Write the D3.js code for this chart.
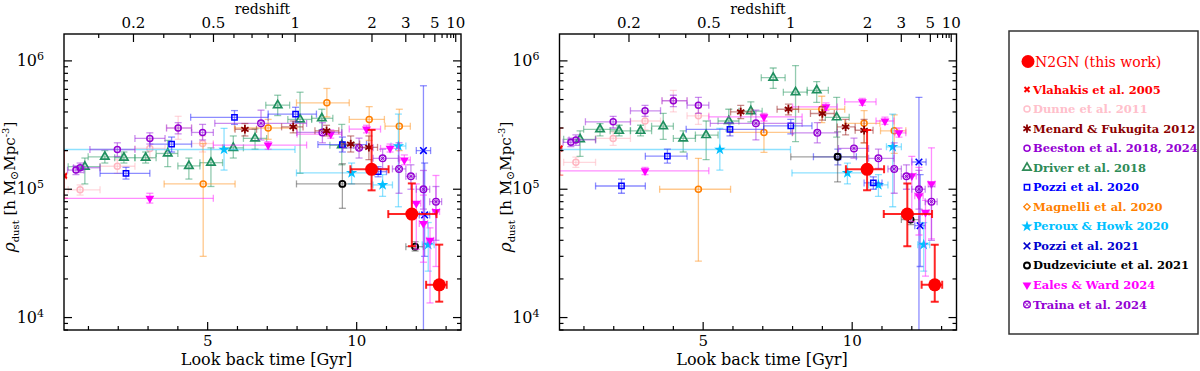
<!DOCTYPE html>
<html>
<head>
<meta charset="utf-8">
<script src="https://cdn.jsdelivr.net/npm/d3@7"></script>
<style>
body { margin: 0; background: #fff; }
svg { display: block; font-family: "DejaVu Serif", serif; }
</style>
</head>
<body>
<svg width="1200" height="371"></svg>
<script>
// each row: [lookback Gyr, tLo, tHi, rho_dust, rhoLo, rhoHi]
// left panel (A) and right panel (B)
var n2gn = [[10.50, 9.79, 11.07, 1.43e5, 0.98e5, 2.9e5],
            [11.85, 11.06, 12.68, 6.4e4, 3.6e4, 1.11e5],
            [12.77, 12.33, 13.02, 1.8e4, 1.33e4, 3.7e4]];

var vlahakisA = [[0.19, 0.12, 0.26, 1.27e5, 0.85e5, 2.0e5]];
var vlahakisB = [[0.19, 0.12, 0.26, 2.08e5, 1.29e5, 3.0e5]];

var dunneA = [[0.72, 0.32, 1.39, 9.9e4, 9.0e4, 1.08e5],
              [1.97, 1.39, 2.56, 1.51e5, 1.33e5, 1.7e5],
              [3.06, 2.56, 3.57, 2.08e5, 1.75e5, 2.45e5],
              [4.01, 3.62, 4.46, 3.0e5, 2.45e5, 3.7e5],
              [4.83, 4.46, 5.19, 2.27e5, 1.95e5, 2.6e5]];
var dunneB = [[0.73, 0.32, 1.39, 1.62e5, 1.48e5, 1.78e5],
              [1.98, 1.39, 2.56, 2.49e5, 2.2e5, 2.8e5],
              [3.05, 2.56, 3.57, 3.4e5, 2.9e5, 4.0e5],
              [4.0, 3.62, 4.46, 4.9e5, 4.0e5, 5.9e5],
              [4.84, 4.46, 5.19, 3.73e5, 3.2e5, 4.3e5]];

var menardA = [[6.25, 5.92, 6.64, 2.93e5, 2.6e5, 3.25e5],
               [7.87, 7.48, 8.2, 3.06e5, 2.75e5, 3.4e5],
               [8.99, 8.6, 9.4, 2.85e5, 2.6e5, 3.15e5],
               [9.8, 9.5, 10.1, 2.25e5, 1.95e5, 2.6e5],
               [10.41, 10.1, 10.7, 2.12e5, 1.7e5, 2.6e5]];
var menardB = [[6.26, 5.92, 6.64, 4.0e5, 3.55e5, 4.5e5],
               [7.86, 7.48, 8.2, 4.2e5, 3.8e5, 4.6e5],
               [9.0, 8.6, 9.4, 3.89e5, 3.45e5, 4.4e5],
               [9.78, 9.5, 10.1, 3.06e5, 2.65e5, 3.5e5],
               [10.4, 10.1, 10.7, 2.88e5, 2.3e5, 3.5e5]];

var beestonA = [[0.58, 0.3, 0.85, 1.41e5, 1.3e5, 1.52e5],
                [0.72, 0.5, 1.39, 1.47e5, 1.35e5, 1.6e5],
                [1.97, 1.05, 2.56, 2.04e5, 1.8e5, 2.3e5],
                [3.06, 2.56, 3.57, 2.49e5, 2.25e5, 2.75e5],
                [4.01, 3.62, 4.46, 3.0e5, 2.7e5, 3.3e5],
                [4.83, 4.46, 5.19, 2.77e5, 2.42e5, 3.2e5]];
var beestonB = [[0.56, 0.3, 0.85, 2.32e5, 2.15e5, 2.5e5],
                [0.73, 0.5, 1.39, 2.42e5, 2.2e5, 2.65e5],
                [1.98, 1.05, 2.56, 3.35e5, 3.0e5, 3.7e5],
                [3.05, 2.56, 3.57, 4.08e5, 3.7e5, 4.5e5],
                [4.0, 3.62, 4.46, 4.89e5, 4.4e5, 5.4e5],
                [4.84, 4.46, 5.19, 4.52e5, 3.9e5, 5.2e5]];

var driverA = [[0.88, 0.32, 1.39, 1.5e5, 1.1e5, 1.75e5],
               [1.55, 0.99, 2.12, 1.79e5, 1.6e5, 2.0e5],
               [2.19, 1.88, 2.56, 1.76e5, 1.6e5, 1.95e5],
               [2.92, 2.56, 3.27, 1.76e5, 1.6e5, 1.95e5],
               [3.66, 3.27, 4.0, 1.9e5, 1.5e5, 2.4e5],
               [4.37, 4.0, 4.74, 1.52e5, 1.2e5, 1.75e5],
               [5.11, 4.74, 5.5, 1.61e5, 1.05e5, 2.1e5],
               [5.86, 5.5, 6.2, 2.1e5, 1.75e5, 2.6e5],
               [6.59, 6.2, 6.98, 2.49e5, 2.05e5, 2.95e5],
               [7.35, 6.95, 7.75, 4.52e5, 3.75e5, 5.4e5],
               [8.1, 7.69, 8.49, 3.5e5, 1.33e5, 5.7e5],
               [8.83, 8.49, 9.2, 3.57e5, 2.9e5, 4.2e5],
               [9.5, 9.1, 9.9, 2.2e5, 1.55e5, 3.2e5]];
var driverB = [[0.87, 0.32, 1.39, 2.45e5, 1.8e5, 2.85e5],
               [1.54, 0.99, 2.12, 2.93e5, 2.6e5, 3.25e5],
               [2.18, 1.88, 2.56, 2.85e5, 2.6e5, 3.15e5],
               [2.9, 2.56, 3.27, 2.85e5, 2.6e5, 3.15e5],
               [3.66, 3.27, 4.0, 3.1e5, 2.45e5, 3.9e5],
               [4.33, 4.0, 4.74, 2.49e5, 1.95e5, 2.85e5],
               [5.1, 4.74, 5.5, 2.64e5, 1.7e5, 3.4e5],
               [5.86, 5.5, 6.2, 3.4e5, 2.85e5, 4.2e5],
               [6.6, 6.2, 6.98, 4.06e5, 3.35e5, 4.8e5],
               [7.35, 6.95, 7.75, 7.4e5, 6.1e5, 8.8e5],
               [8.1, 7.69, 8.49, 5.7e5, 2.35e5, 9.2e5],
               [8.81, 8.49, 9.2, 5.9e5, 4.75e5, 6.9e5],
               [9.48, 9.1, 9.9, 3.63e5, 2.55e5, 5.2e5]];

var pozzi20A = [[2.26, 1.39, 3.06, 1.33e5, 1.2e5, 1.48e5],
                [3.79, 3.06, 4.46, 2.25e5, 1.95e5, 2.55e5],
                [5.9, 4.43, 7.03, 3.63e5, 3.2e5, 4.1e5],
                [7.95, 7.03, 8.65, 3.85e5, 3.35e5, 4.35e5],
                [9.52, 8.7, 10.33, 2.23e5, 1.95e5, 2.55e5],
                [10.72, 10.4, 11.0, 1.37e5, 1.25e5, 1.5e5]];
var pozzi20B = [[2.26, 1.39, 3.06, 1.06e5, 0.93e5, 1.2e5],
                [3.8, 3.06, 4.46, 1.81e5, 1.6e5, 2.05e5],
                [5.9, 4.43, 7.03, 2.93e5, 2.6e5, 3.3e5],
                [7.94, 7.03, 8.65, 3.12e5, 2.7e5, 3.5e5],
                [9.52, 8.7, 10.14, 1.79e5, 1.55e5, 2.05e5],
                [10.71, 10.4, 11.0, 1.12e5, 1.0e5, 1.25e5]];

var magnelliA = [[4.85, 3.54, 5.92, 1.1e5, 3.0e4, 2.27e5],
                 [7.03, 5.9, 8.0, 3.0e5, 2.45e5, 3.5e5],
                 [9.0, 7.98, 9.75, 4.71e5, 3.66e5, 6.1e5],
                 [10.42, 9.75, 10.93, 3.5e5, 2.4e5, 4.4e5],
                 [11.43, 10.95, 11.8, 3.1e5, 2.0e5, 4.2e5]];
var magnelliB = [[4.84, 3.54, 5.92, 1.0e5, 2.75e4, 1.74e5],
                 [7.04, 5.9, 8.0, 2.77e5, 1.94e5, 3.77e5],
                 [8.98, 7.98, 9.75, 4.2e5, 3.3e5, 5.3e5],
                 [10.4, 9.75, 10.93, 3.26e5, 2.3e5, 4.1e5],
                 [11.41, 10.95, 11.8, 2.85e5, 1.9e5, 3.8e5]];

var perouxA = [[5.55, 0.0, 7.93, 2.04e5, 1.41e5, 2.98e5],
               [9.83, 7.98, 10.6, 1.34e5, 1.1e5, 1.6e5],
               [10.87, 10.55, 11.2, 1.08e5, 8.8e4, 1.3e5],
               [11.4, 11.15, 11.65, 2.17e5, 7.3e4, 3.85e5],
               [12.4, 12.2, 12.6, 3.7e4, 2.3e4, 5.5e4]];
var perouxB = [[5.56, 0.0, 7.93, 2.04e5, 1.41e5, 2.98e5],
               [9.84, 7.98, 10.6, 1.34e5, 1.1e5, 1.6e5],
               [10.88, 10.55, 11.2, 1.08e5, 8.8e4, 1.3e5],
               [11.36, 11.15, 11.65, 2.14e5, 7.3e4, 3.85e5],
               [12.4, 12.2, 12.6, 3.7e4, 2.3e4, 5.5e4]];

var pozzi21A = [[12.24, 12.0, 12.48, 2.0e5, 5.0e3, 6.4e5],
                [12.28, 12.1, 12.45, 6.3e4, 3.0e4, 1.6e5]];
var pozzi21B = [[12.24, 12.0, 12.48, 1.63e5, 5.0e3, 5.2e5],
                [12.28, 12.1, 12.45, 5.2e4, 2.5e4, 1.3e5]];

var dudzA = [[9.52, 7.98, 10.5, 1.1e5, 7.1e4, 1.58e5],
             [11.96, 11.65, 12.24, 3.57e4, 3.3e4, 3.9e4]];
var dudzB = [[9.51, 7.94, 10.49, 1.79e5, 1.14e5, 2.8e5],
             [11.96, 11.65, 12.24, 5.8e4, 5.3e4, 6.3e4]];

var ealesA = [[3.06, 0.15, 5.19, 8.5e4, 7.8e4, 9.3e4],
              [7.03, 5.19, 8.32, 2.21e5, 2.05e5, 2.35e5],
              [9.13, 8.0, 9.5, 2.69e5, 2.5e5, 2.9e5],
              [10.33, 9.75, 10.8, 2.94e5, 2.75e5, 3.15e5],
              [11.12, 10.8, 11.4, 2.08e5, 1.95e5, 2.25e5],
              [11.6, 11.43, 11.8, 1.69e5, 1.55e5, 1.85e5],
              [12.0, 11.85, 12.15, 7.76e4, 3.4e4, 1.1e5],
              [12.24, 12.1, 12.38, 5.4e4, 2.7e4, 9.0e4],
              [12.46, 12.35, 12.58, 4.0e4, 1.3e4, 5.0e4],
              [12.66, 12.55, 12.78, 6.7e4, 2.5e4, 1.28e5]];
var ealesB = [[3.05, 0.15, 5.19, 1.39e5, 1.3e5, 1.48e5],
              [7.04, 5.19, 8.32, 3.66e5, 3.4e5, 3.9e5],
              [9.12, 8.0, 9.5, 4.38e5, 4.1e5, 4.7e5],
              [10.34, 9.75, 10.8, 4.8e5, 4.5e5, 5.1e5],
              [11.1, 10.8, 11.4, 3.4e5, 3.2e5, 3.65e5],
              [11.57, 11.43, 11.8, 2.75e5, 2.55e5, 3.0e5],
              [12.0, 11.85, 12.15, 1.27e5, 5.6e4, 1.8e5],
              [12.24, 12.1, 12.38, 8.9e4, 4.4e4, 1.48e5],
              [12.46, 12.35, 12.58, 6.6e4, 2.1e4, 8.2e4],
              [12.66, 12.55, 12.78, 1.1e5, 4.1e4, 2.1e5]];

var trainaA = [[6.79, 5.24, 8.32, 3.26e5, 2.42e5, 4.13e5],
               [8.85, 7.99, 9.5, 2.77e5, 2.3e5, 3.3e5],
               [10.08, 9.54, 10.55, 2.1e5, 1.75e5, 2.5e5],
               [10.87, 10.55, 11.4, 1.74e5, 1.45e5, 2.05e5],
               [11.42, 11.2, 11.65, 1.44e5, 0.93e5, 2.3e5],
               [11.82, 11.65, 12.0, 1.26e5, 1.0e5, 1.55e5],
               [12.24, 12.0, 12.45, 1.0e5, 0.7e5, 1.4e5],
               [12.66, 12.45, 12.85, 8.0e4, 4.0e4, 1.05e5]];
var trainaB = [[6.77, 5.24, 8.32, 3.26e5, 2.42e5, 4.13e5],
               [8.83, 7.99, 9.5, 2.75e5, 2.3e5, 3.3e5],
               [10.06, 9.54, 10.55, 2.08e5, 1.75e5, 2.5e5],
               [10.88, 10.55, 11.4, 1.74e5, 1.45e5, 2.05e5],
               [11.41, 11.2, 11.65, 1.44e5, 0.93e5, 2.3e5],
               [11.82, 11.65, 12.0, 1.26e5, 1.0e5, 1.55e5],
               [12.24, 12.0, 12.45, 1.0e5, 0.7e5, 1.4e5],
               [12.66, 12.45, 12.85, 8.0e4, 4.0e4, 1.05e5]];

var legendNames = ["N2GN (this work)", "Vlahakis et al. 2005", "Dunne et al. 2011",
  "Menard & Fukugita 2012", "Beeston et al. 2018, 2024", "Driver et al. 2018",
  "Pozzi et al. 2020", "Magnelli et al. 2020", "Peroux & Howk 2020", "Pozzi et al. 2021",
  "Dudzeviciute et al. 2021", "Eales & Ward 2024", "Traina et al. 2024"];

var zMajor = [0.2, 0.5, 1, 2, 3, 5, 10];
var zMinor = [0.1, 0.3, 0.4, 0.6, 0.7, 0.8, 0.9, 4, 6, 7, 8, 9];
var tMajor = [5, 10];
var yMajor = [1e4, 1e5, 1e6];

// styles, in drawing order (legend order is separate)
var sets = [
  {leg: 2, sym: "circle", color: "#ffb6c1", err: "#ffb6c1", A: dunneA, B: dunneB},
  {leg: 1, sym: "vx", color: "#ff0000", err: "#ff0000", A: vlahakisA, B: vlahakisB},
  {leg: 9, sym: "x", color: "#0000ff", err: "#3030ff", A: pozzi21A, B: pozzi21B},
  {leg: 5, sym: "tri", color: "#1f8f5f", err: "#3aa070", A: driverA, B: driverB},
  {leg: 7, sym: "circle", color: "#ff7f00", err: "#ff9a30", A: magnelliA, B: magnelliB},
  {leg: 8, sym: "star", color: "#00bfff", err: "#30c8ff", A: perouxA, B: perouxB},
  {leg: 6, sym: "square", color: "#0000ff", err: "#3030ff", A: pozzi20A, B: pozzi20B},
  {leg: 10, sym: "bcircle", color: "#000000", err: "#555555", A: dudzA, B: dudzB},
  {leg: 11, sym: "tridown", color: "#ff00ff", err: "#ff30ff", A: ealesA, B: ealesB},
  {leg: 4, sym: "circle", color: "#9400d3", err: "#a030e0", A: beestonA, B: beestonB},
  {leg: 12, sym: "ocast", color: "#9400d3", err: "#a030e0", A: trainaA, B: trainaB},
  {leg: 3, sym: "ast", color: "#8b0000", err: "#a03030", A: menardA, B: menardB},
  {leg: 0, sym: "dot", color: "#ff0000", err: "#ff0000", A: n2gn, B: n2gn}
];
var legColors = ["#ff0000", "#ff0000", "#ffc0cb", "#8b0000", "#9400d3", "#2e8b57",
  "#0000ff", "#ff7f00", "#00bfff", "#0000cd", "#000000", "#ff00ff", "#9400d3"];
var legSyms = ["dot", "vx", "circle", "ast", "circle", "tri", "square", "diamond", "star", "x", "bcircle", "tridown", "ocast"];

var svg = d3.select("svg");
var W = 397, H = 296, top0 = 34;
var x = d3.scaleLinear().domain([0.18, 13.5]).range([0, W]);
var y = d3.scaleLog().domain([8.0e3, 1.62e6]).range([H, 0]);

// lookback time (Gyr), flat LCDM H0=67.7, Om=0.31
function lookback(z) {
  var n = 200, u1 = Math.log(1 + z), h = u1 / n, s = 0;
  for (var i = 0; i <= n; i++) {
    var zz = Math.exp(i * h) - 1;
    var f = 1 / Math.sqrt(0.31 * Math.pow(1 + zz, 3) + 0.69);
    var w = (i == 0 || i == n) ? 1 : (i % 2 ? 4 : 2);
    s += w * f;
  }
  return s * h / 3 * 977.8 / 67.7;
}

function marker(g, sym, cx, cy, color) {
  var m;
  if (sym == "dot") {
    g.append("circle").attr("cx", cx).attr("cy", cy).attr("r", 6.5).attr("fill", color);
  } else if (sym == "circle" || sym == "bcircle") {
    g.append("circle").attr("cx", cx).attr("cy", cy).attr("r", 3)
      .attr("fill", "none").attr("stroke", color).attr("stroke-width", sym == "bcircle" ? 1.9 : 1.5);
  } else if (sym == "ocast") {
    g.append("circle").attr("cx", cx).attr("cy", cy).attr("r", 3.3)
      .attr("fill", "none").attr("stroke", color).attr("stroke-width", 1.4);
    g.append("path").attr("d", d3.symbol(d3.symbolTimes, 12)())
      .attr("transform", "translate(" + cx + "," + cy + ")").attr("stroke", color).attr("stroke-width", 1);
  } else if (sym == "tri") {
    g.append("path").attr("d", d3.symbol(d3.symbolTriangle, 30)())
      .attr("transform", "translate(" + cx + "," + cy + ")")
      .attr("fill", "none").attr("stroke", color).attr("stroke-width", 1.7);
  } else if (sym == "tridown") {
    g.append("path").attr("d", d3.symbol(d3.symbolTriangle, 34)())
      .attr("transform", "translate(" + cx + "," + cy + ") rotate(180)").attr("fill", color);
  } else if (sym == "square") {
    g.append("path").attr("d", d3.symbol(d3.symbolSquare, 28)())
      .attr("transform", "translate(" + cx + "," + cy + ")")
      .attr("fill", "none").attr("stroke", color).attr("stroke-width", 1.5);
  } else if (sym == "diamond") {
    g.append("path").attr("d", d3.symbol(d3.symbolDiamond2, 26)())
      .attr("transform", "translate(" + cx + "," + cy + ")")
      .attr("fill", "none").attr("stroke", color).attr("stroke-width", 1.3);
  } else if (sym == "star") {
    g.append("path").attr("d", d3.symbol(d3.symbolStar, 40)())
      .attr("transform", "translate(" + cx + "," + cy + ")").attr("fill", color);
  } else if (sym == "x" || sym == "vx") {
    g.append("path").attr("d", d3.symbol(d3.symbolTimes, sym == "x" ? 30 : 18)())
      .attr("transform", "translate(" + cx + "," + cy + ")")
      .attr("stroke", color).attr("stroke-width", sym == "x" ? 1.6 : 2);
  } else if (sym == "ast") {
    m = g.append("g").attr("transform", "translate(" + cx + "," + cy + ")");
    [0, 60, 120].forEach(function(a) {
      m.append("line").attr("x1", 0).attr("y1", -4.2).attr("x2", 0).attr("y2", 4.2)
        .attr("transform", "rotate(" + a + ")").attr("stroke", color).attr("stroke-width", 1.8);
    });
    m.append("circle").attr("r", 1.8).attr("fill", color);
  }
}

function drawPanel(px, key, idx) {
  var g = svg.append("g").attr("transform", "translate(" + px + "," + top0 + ")");
  g.append("clipPath").attr("id", "clip" + idx).append("rect").attr("width", W).attr("height", H);
  var plot = g.append("g").attr("clip-path", "url(#clip" + idx + ")");

  sets.forEach(function(s) {
    var rows = s[key];
    var cap = s.sym == "dot" ? 4 : 3.5;
    var eg = plot.append("g").attr("stroke", s.err)
      .attr("stroke-opacity", s.sym == "dot" ? 0.85 : 0.55)
      .attr("stroke-width", s.sym == "dot" ? 2 : 1.3).attr("fill", "none");
    rows.forEach(function(r) {
      var cx = x(r[0]), cy = y(r[3]);
      var x1 = x(r[1]), x2 = x(r[2]), y1 = y(r[4]), y2 = y(r[5]);
      eg.append("line").attr("x1", x1).attr("x2", x2).attr("y1", cy).attr("y2", cy);
      eg.append("line").attr("x1", x1).attr("x2", x1).attr("y1", cy - cap).attr("y2", cy + cap);
      eg.append("line").attr("x1", x2).attr("x2", x2).attr("y1", cy - cap).attr("y2", cy + cap);
      eg.append("line").attr("x1", cx).attr("x2", cx).attr("y1", y1).attr("y2", y2);
      eg.append("line").attr("x1", cx - cap).attr("x2", cx + cap).attr("y1", y1).attr("y2", y1);
      eg.append("line").attr("x1", cx - cap).attr("x2", cx + cap).attr("y1", y2).attr("y2", y2);
    });
    rows.forEach(function(r) {
      marker(plot, s.sym, x(r[0]), y(r[3]), s.color);
    });
  });

  // frame and ticks
  g.append("rect").attr("width", W).attr("height", H)
    .attr("fill", "none").attr("stroke", "#000").attr("stroke-width", 1.4);
  var tk = g.append("g").attr("stroke", "#000").attr("stroke-width", 1.2);
  d3.range(1, 14).forEach(function(t) {
    var len = tMajor.indexOf(t) >= 0 ? 8 : 4;
    tk.append("line").attr("x1", x(t)).attr("x2", x(t)).attr("y1", H).attr("y2", H - len);
  });
  zMajor.concat(zMinor).forEach(function(z) {
    var len = zMajor.indexOf(z) >= 0 ? 8 : 4;
    var xx = x(lookback(z));
    tk.append("line").attr("x1", xx).attr("x2", xx).attr("y1", 0).attr("y2", len);
  });
  var yt = [];
  [1e3, 1e4, 1e5, 1e6].forEach(function(d) { for (var k = 1; k < 10; k++) yt.push(d * k); });
  yt.filter(function(v) { return v >= 8.0e3 && v <= 1.62e6; }).forEach(function(v) {
    var len = yMajor.indexOf(v) >= 0 ? 8 : 4;
    tk.append("line").attr("x1", 0).attr("x2", len).attr("y1", y(v)).attr("y2", y(v));
    tk.append("line").attr("x1", W).attr("x2", W - len).attr("y1", y(v)).attr("y2", y(v));
  });

  // labels
  tMajor.forEach(function(t) {
    g.append("text").attr("x", x(t)).attr("y", H + 16).attr("text-anchor", "middle")
      .style("font-size", "15px").text(t);
  });
  zMajor.forEach(function(z) {
    g.append("text").attr("x", x(lookback(z))).attr("y", -6).attr("text-anchor", "middle")
      .style("font-size", "15px").text(z);
  });
  yMajor.forEach(function(v) {
    var lt = g.append("text").attr("x", -20).attr("y", y(v) + 5).attr("text-anchor", "end")
      .style("font-size", "16px");
    lt.append("tspan").text("10");
    lt.append("tspan").attr("dy", -6).style("font-size", "11px").text(Math.round(Math.log10(v)));
  });
  g.append("text").attr("x", W / 2).attr("y", -20).attr("text-anchor", "middle")
    .style("font-size", "14px").text("redshift");
  g.append("text").attr("x", W / 2 + 4).attr("y", H + 35).attr("text-anchor", "middle")
    .style("font-size", "16px").text("Look back time [Gyr]");

  var yl = svg.append("text").attr("text-anchor", "middle").style("font-size", "15px")
    .attr("transform", "translate(" + (px - 49) + "," + (top0 + H / 2 + 5) + ") rotate(-90)");
  yl.append("tspan").style("font-style", "italic").style("font-size", "17px").text("ρ");
  yl.append("tspan").attr("dy", 4).style("font-size", "10px").text("dust");
  yl.append("tspan").attr("dy", -4).text(" [h M");
  yl.append("tspan").attr("dy", 3).style("font-size", "11px").text("⊙");
  yl.append("tspan").attr("dy", -3).text("Mpc");
  yl.append("tspan").attr("dy", -6).style("font-size", "10px").text("-3");
  yl.append("tspan").attr("dy", 6).text("]");
}

drawPanel(64, "A", 0);
drawPanel(559.5, "B", 1);

// legend
var lg = svg.append("g");
lg.append("rect").attr("x", 1009).attr("y", 31).attr("width", 189).attr("height", 303)
  .attr("fill", "#fff").attr("stroke", "#333").attr("stroke-width", 1.5);
legendNames.forEach(function(nm, i) {
  var yy = i == 0 ? 61.5 : 89.5 + (i - 1) * 19.55;
  marker(lg, legSyms[i], i == 0 ? 1028 : 1027, yy, legColors[i]);
  lg.append("text").attr("x", i == 0 ? 1035 : 1033).attr("y", yy + (i == 0 ? 5 : 4))
    .attr("fill", legColors[i])
    .style("font-size", i == 0 ? "14px" : "11.5px")
    .style("font-weight", i == 0 ? "normal" : "bold")
    .text(nm);
});
</script>
</body>
</html>
